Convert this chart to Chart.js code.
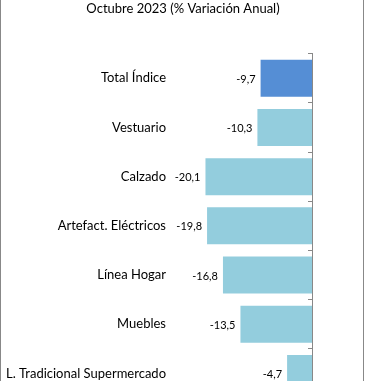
<!DOCTYPE html>
<html>
<head>
<meta charset="utf-8">
<script src="https://cdn.jsdelivr.net/npm/chart.js@4"></script>
<style>
html,body{margin:0;padding:0;overflow:hidden;background:#fff;}
#wrap{position:relative;width:366px;height:414px;}
#c{position:absolute;left:0;top:0;}
.bl{position:absolute;top:0;width:1px;height:414px;background:#888;}
</style>
</head>
<body>
<div id="wrap">
<canvas id="c" width="366" height="414"></canvas>
<div class="bl" style="left:0"></div>
<div class="bl" style="left:363px"></div>
</div>
<script>
const titleText = 'Octubre 2023 (% Variación Anual)';
const categories = ['Total Índice','Vestuario','Calzado','Artefact. Eléctricos','Línea Hogar','Muebles','L. Tradicional Supermercado'];
const values = [-9.7,-10.3,-20.1,-19.8,-16.8,-13.5,-4.7];
const barColors = ['#558ED5','#93CDDD','#93CDDD','#93CDDD','#93CDDD','#93CDDD','#93CDDD'];

const FONT = 'Lato, "Open Sans", sans-serif';

const valueLabels = {
  id: 'valueLabels',
  afterDatasetsDraw(chart) {
    const ctx = chart.ctx;
    const meta = chart.getDatasetMeta(0);
    ctx.save();
    ctx.font = '11px ' + FONT;
    ctx.fillStyle = '#000';
    ctx.textAlign = 'right';
    ctx.textBaseline = 'middle';
    meta.data.forEach((bar, i) => {
      const v = values[i];
      const txt = v.toFixed(1).replace('.', ',');
      ctx.fillText(txt, bar.x - 5, bar.y + 1);
    });
    ctx.restore();
  }
};

new Chart(document.getElementById('c'), {
  type: 'bar',
  data: {
    labels: categories,
    datasets: [{
      data: values,
      backgroundColor: barColors,
      borderWidth: 0,
      categoryPercentage: 1,
      barPercentage: 0.753
    }]
  },
  plugins: [valueLabels],
  options: {
    indexAxis: 'y',
    responsive: false,
    animation: false,
    layout: { padding: { top: 0, right: 0, bottom: 0, left: 0 } },
    plugins: {
      legend: { display: false },
      tooltip: { enabled: false },
      title: {
        display: true,
        text: titleText,
        color: '#000',
        font: { family: FONT, size: 13, weight: 'normal', lineHeight: 1.2 },
        padding: { top: 1, bottom: 37.1 }
      }
    },
    scales: {
      x: {
        display: false,
        min: -26,
        max: 0
      },
      y: {
        position: 'left',
        offset: true,
        grid: { display: false, offset: true, drawTicks: false, tickLength: 0 },
        border: { display: false },
        ticks: {
          color: '#000',
          font: { family: FONT, size: 13 },
          padding: 8.2,
          autoSkip: false
        },
        afterFit(s) { s.width = 174.2; }
      },
      y2: {
        type: 'category',
        position: 'right',
        labels: categories,
        offset: true,
        grid: { display: true, offset: true, drawOnChartArea: false, drawTicks: true, tickLength: -4, color: '#888', tickColor: '#888' },
        border: { display: true, color: '#888', width: 1 },
        ticks: { display: false },
        afterFit(s) { s.width = 54; }
      }
    }
  }
});
</script>
</body>
</html>
